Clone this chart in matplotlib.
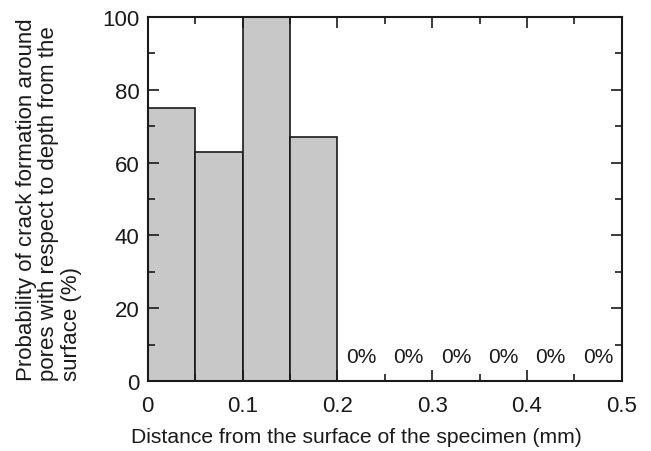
import matplotlib.pyplot as plt
import numpy as np

plt.rcParams['font.family'] = ['Liberation Sans', 'DejaVu Sans']

bin_left = [0.0, 0.05, 0.10, 0.15, 0.20, 0.25, 0.30, 0.35, 0.40, 0.45]
prob = [75, 63, 100, 67, 0, 0, 0, 0, 0, 0]
width = 0.05

fig = plt.figure(figsize=(6.51, 4.52), dpi=100)
ax = fig.add_axes([0.227, 0.155, 0.728, 0.805])

ax.bar(bin_left, prob, width=width, align='edge', color='#c8c8c8',
       edgecolor='#1a1a1a', linewidth=1.2)

for x, p in zip(bin_left, prob):
    if p == 0:
        ax.text(x + width / 2, 4, '0%', ha='center', va='bottom', fontsize=15, color='#1a1a1a')

ax.set_xlim(0, 0.5)
ax.set_ylim(0, 100)
ax.set_xticks(np.arange(0, 0.51, 0.1))
ax.set_xticklabels(['0', '0.1', '0.2', '0.3', '0.4', '0.5'])
ax.set_xticks(np.arange(0.05, 0.5, 0.1), minor=True)
ax.set_yticks(np.arange(0, 101, 20))
ax.set_yticks(np.arange(10, 100, 20), minor=True)
ax.tick_params(which='both', direction='in', top=True, right=True, labelsize=16,
               colors='#1a1a1a', width=1.2)
ax.tick_params(which='major', length=8, pad=6)
ax.tick_params(axis='x', which='major', pad=10)
ax.tick_params(which='minor', length=5)
for s in ax.spines.values():
    s.set_linewidth(1.5)
    s.set_color('#1a1a1a')

ax.set_xlabel('Distance from the surface of the specimen (mm)', fontsize=15.2,
              color='#1a1a1a')
ax.xaxis.set_label_coords(0.44, -0.127)
fig.text(0.024, 0.158, 'Probability of crack formation around\npores with respect to depth from the\nsurface (%)',
         rotation=90, ha='left', va='bottom', multialignment='left', fontsize=16,
         color='#1a1a1a', linespacing=1.1)

fig.savefig('out.png', dpi=100)
